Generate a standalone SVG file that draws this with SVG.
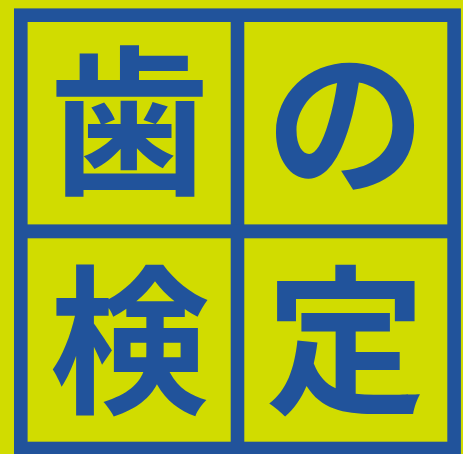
<svg xmlns="http://www.w3.org/2000/svg" width="463" height="454" viewBox="0 0 463 454">
<style>
.bg{fill:#d1dc00}
.frame{fill:none;stroke:#21539b;stroke-width:13.6}
.bar{fill:#21539b}
.ch{font-family:"Noto Sans CJK JP","Noto Sans CJK SC",sans-serif;font-weight:bold;font-size:160px;fill:#21539b;text-anchor:middle}
</style>
<rect class="bg" x="0" y="0" width="463" height="454"/>
<g id="frame">
<rect class="frame" x="20.8" y="15.2" width="433.3" height="433.3"/>
<rect class="bar" x="230.7" y="20" width="13.6" height="424"/>
<rect class="bar" x="25" y="224.4" width="425" height="13.9"/>
</g>
<g id="cell-ha"><text class="ch" x="129.3" y="182">歯</text></g>
<g id="cell-no"><text class="ch" x="345.7" y="182">の</text></g>
<g id="cell-ken"><text class="ch" x="129.3" y="400.5">検</text></g>
<g id="cell-tei"><text class="ch" x="345.7" y="400.5">定</text></g>
<g id="connectors"></g>
</svg>
